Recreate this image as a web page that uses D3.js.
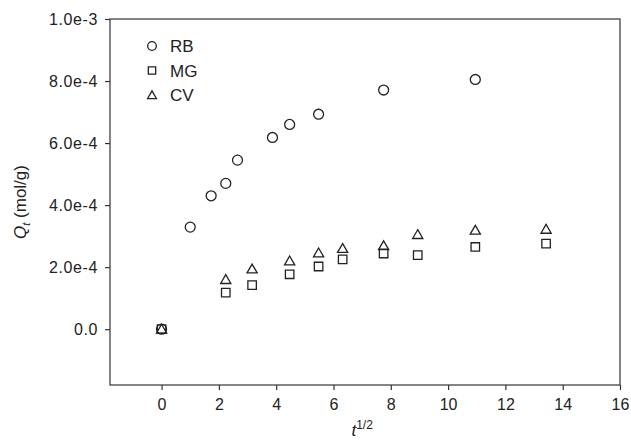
<!DOCTYPE html>
<html>
<head>
<meta charset="utf-8">
<script src="https://cdn.jsdelivr.net/npm/d3@7"></script>
<style>
  body { margin: 0; background: #fff; }
  text { font-family: "Liberation Sans", Arial, sans-serif; fill: #222; }
</style>
</head>
<body>
<div id="chart"></div>
<script>
// data (x = t^1/2, y = Qt in mol/g)
var rbX = [0, 1, 1.73, 2.24, 2.65, 3.87, 4.47, 5.48, 7.75, 10.95];
var rbY = [0, 3.29e-4, 4.30e-4, 4.70e-4, 5.45e-4, 6.18e-4, 6.60e-4, 6.93e-4, 7.71e-4, 8.05e-4];
var mgX = [0, 2.24, 3.16, 4.47, 5.48, 6.32, 7.75, 8.94, 10.95, 13.42];
var mgY = [0, 1.18e-4, 1.42e-4, 1.77e-4, 2.02e-4, 2.25e-4, 2.44e-4, 2.39e-4, 2.65e-4, 2.76e-4];
var cvX = [0, 2.24, 3.16, 4.47, 5.48, 6.32, 7.75, 8.94, 10.95, 13.42];
var cvY = [0, 1.60e-4, 1.94e-4, 2.20e-4, 2.46e-4, 2.60e-4, 2.69e-4, 3.05e-4, 3.19e-4, 3.22e-4];
var seriesNames = ["RB", "MG", "CV"];
var xTicks = [0, 2, 4, 6, 8, 10, 12, 14, 16];
var yTicks = [0, 2e-4, 4e-4, 6e-4, 8e-4, 1e-3];
var yTickLabels = ["0.0", "2.0e-4", "4.0e-4", "6.0e-4", "8.0e-4", "1.0e-3"];

// set the dimensions and margins of the graph
var margin = { top: 19, right: 11, bottom: 56, left: 110 },
  width = 631 - margin.left - margin.right,
  height = 441 - margin.top - margin.bottom;

var svg = d3.select("#chart")
  .append("svg")
  .attr("width", 631)
  .attr("height", 441)
  .append("g")
  .attr("transform", "translate(" + margin.left + "," + margin.top + ")");

var x = d3.scaleLinear().domain([-1.8, 16]).range([0, width]);
var y = d3.scaleLinear().domain([-1.8e-4, 1e-3]).range([height, 0]);

// frame
svg.append("rect")
  .attr("width", width).attr("height", height)
  .attr("fill", "none").attr("stroke", "#333").attr("stroke-width", 1.2);

// axes
var xAxis = svg.append("g")
  .attr("transform", "translate(0," + height + ")")
  .call(d3.axisBottom(x).tickValues(xTicks).tickSize(5).tickSizeOuter(0).tickPadding(9));
var yAxis = svg.append("g")
  .call(d3.axisLeft(y).tickValues(yTicks).tickSize(5).tickSizeOuter(0).tickPadding(7)
    .tickFormat(function(d, i) { return yTickLabels[i]; }));
[xAxis, yAxis].forEach(function(a) {
  a.attr("font-size", 16).attr("font-family", "Liberation Sans, Arial, sans-serif");
  a.select(".domain").remove();
  a.selectAll("line").attr("stroke", "#333").attr("stroke-width", 1.2);
  a.selectAll("text").attr("fill", "#222");
});
yAxis.selectAll("text").attr("letter-spacing", "0.6");

// axis titles
svg.append("text")
  .attr("text-anchor", "middle")
  .attr("transform", "translate(-84," + (height / 2) + ")rotate(-90)")
  .attr("font-size", 17)
  .html('<tspan font-style="italic">Q</tspan><tspan font-style="italic" font-size="11" dy="4">t</tspan><tspan dy="-4"> (mol/g)</tspan>');
svg.append("text")
  .attr("text-anchor", "middle")
  .attr("x", x(7))
  .attr("y", height + 51)
  .attr("font-size", 17)
  .html('<tspan font-style="italic">t</tspan><tspan font-size="12" dy="-7">1/2</tspan>');

// markers
var symbols = [d3.symbolCircle, d3.symbolSquare, d3.symbolTriangle];
var sizes = [78, 72, 45];
var series = [
  { name: seriesNames[0], xs: rbX, ys: rbY },
  { name: seriesNames[1], xs: mgX, ys: mgY },
  { name: seriesNames[2], xs: cvX, ys: cvY }
];
series.forEach(function(s, k) {
  var pts = s.xs.map(function(v, i) { return [v, s.ys[i]]; });
  svg.append("g").selectAll("path")
    .data(pts)
    .enter()
    .append("path")
    .attr("d", d3.symbol().type(symbols[k]).size(sizes[k]))
    .attr("transform", function(d) {
      return "translate(" + x(d[0]) + "," + (y(d[1]) + (k == 2 ? 1 : 0)) + ")";
    })
    .attr("fill", "none")
    .attr("stroke", "#222")
    .attr("stroke-width", 1.3);
});

// legend
series.forEach(function(s, k) {
  var ly = 27 + k * 24.5;
  svg.append("path")
    .attr("d", d3.symbol().type(symbols[k]).size(sizes[k] * 0.75))
    .attr("transform", "translate(42," + (ly + (k == 2 ? 1 : 0)) + ")")
    .attr("fill", "none").attr("stroke", "#222").attr("stroke-width", 1.3);
  svg.append("text")
    .attr("x", 60).attr("y", ly)
    .attr("dy", "0.36em")
    .attr("font-size", 17)
    .text(s.name);
});
</script>
</body>
</html>
